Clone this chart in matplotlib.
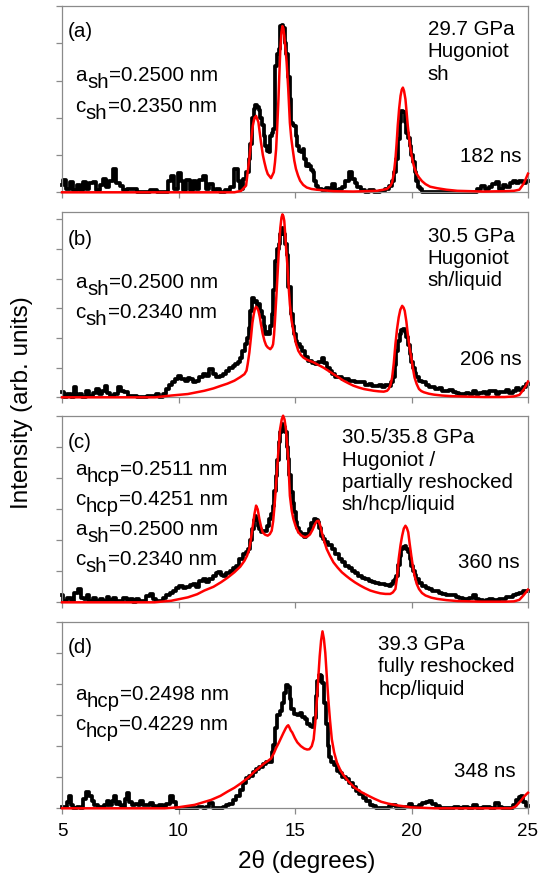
import numpy as np
import matplotlib.pyplot as plt

plt.rcParams['font.family'] = ['Liberation Sans', 'DejaVu Sans']

a_exp = [(5.0, 0.2), (5.11, 0.33), (5.25, 0.1), (5.4, 0.28), (5.55, 0.05), (5.7, 0.2), (5.85, 0.05),
         (5.97, 0.28), (6.1, 0.08), (6.25, 0.25), (6.4, 0.28), (6.55, 0.05), (6.7, 0.2), (6.83, 0.36),
         (6.95, 0.15), (7.1, 0.3), (7.26, 0.62), (7.4, 0.25), (7.54, 0.18), (7.7, 0.05), (7.9, 0.08),
         (8.11, 0.1), (8.3, 0.02), (8.6, 0.0), (8.97, 0.05), (9.2, 0.0), (9.5, 0.02), (9.62, 0.3),
         (9.76, 0.45), (9.88, 0.1), (10.04, 0.53), (10.15, 0.3), (10.25, 0.05), (10.4, 0.32),
         (10.55, 0.05), (10.7, 0.3), (10.8, 0.1), (10.97, 0.32), (11.1, 0.45), (11.25, 0.1),
         (11.4, 0.22), (11.55, 0.05), (11.69, 0.1), (11.9, 0.02), (12.11, 0.05), (12.3, 0.15),
         (12.47, 0.62), (12.6, 0.3), (12.69, 0.1), (12.85, 0.35), (12.97, 0.55), (13.04, 0.9),
         (13.12, 1.3), (13.2, 2.0), (13.26, 2.23), (13.33, 2.34), (13.4, 2.3), (13.47, 2.2),
         (13.54, 2.0), (13.61, 1.8), (13.69, 1.5), (13.76, 1.25), (13.83, 1.1), (13.9, 1.07),
         (13.97, 1.5), (14.04, 1.6), (14.11, 1.7), (14.19, 3.4), (14.26, 3.7), (14.33, 3.84),
         (14.4, 4.46), (14.47, 4.5), (14.54, 4.4), (14.6, 4.0), (14.67, 3.7), (14.74, 3.1),
         (14.8, 2.5), (14.86, 1.87), (14.93, 1.8), (15.0, 1.79), (15.07, 1.5), (15.14, 1.25),
         (15.22, 1.1), (15.29, 1.07), (15.36, 1.16), (15.43, 0.9), (15.5, 0.71), (15.58, 0.75),
         (15.65, 0.71), (15.72, 0.6), (15.79, 0.54), (15.86, 0.3), (15.93, 0.18), (16.08, 0.09),
         (16.22, 0.05), (16.4, 0.12), (16.55, 0.05), (16.65, 0.22), (16.8, 0.05), (16.95, 0.1),
         (17.1, 0.15), (17.23, 0.31), (17.37, 0.54), (17.51, 0.36), (17.62, 0.25), (17.73, 0.13),
         (17.9, 0.05), (18.09, 0.02), (18.3, 0.05), (18.5, 0.0), (18.81, 0.04), (18.95, 0.1),
         (19.09, 0.18), (19.2, 0.3), (19.31, 0.54), (19.38, 0.9), (19.45, 1.43), (19.53, 1.9),
         (19.6, 2.19), (19.67, 2.15), (19.74, 1.9), (19.81, 1.6), (19.88, 1.45), (19.96, 1.25),
         (20.03, 1.0), (20.1, 0.8), (20.17, 0.55), (20.24, 0.31), (20.32, 0.15), (20.39, 0.09),
         (20.53, 0.0), (21.0, 0.0), (21.68, 0.0), (22.2, 0.02), (22.7, 0.0), (22.9, 0.1),
         (23.1, 0.18), (23.25, 0.1), (23.4, 0.15), (23.55, 0.22), (23.7, 0.27), (23.85, 0.1),
         (23.98, 0.2), (24.15, 0.15), (24.3, 0.25), (24.4, 0.31), (24.55, 0.25), (24.7, 0.3),
         (24.85, 0.25), (25.0, 0.3)]
a_fit = [(5.0, 0.0), (12.4, 0.0), (12.69, 0.04), (12.9, 0.18), (13.04, 0.9), (13.12, 1.4),
         (13.19, 1.79), (13.26, 2.0), (13.33, 2.05), (13.43, 1.88), (13.54, 1.34), (13.62, 1.0),
         (13.69, 0.8), (13.76, 0.62), (13.83, 0.49), (13.97, 0.38), (14.09, 0.54), (14.14, 0.8),
         (14.19, 1.16), (14.24, 1.8), (14.29, 2.5), (14.33, 3.2), (14.37, 3.84), (14.42, 4.3),
         (14.46, 4.46), (14.5, 4.4), (14.54, 4.2), (14.57, 4.0), (14.64, 3.5), (14.71, 2.77),
         (14.78, 1.87), (14.84, 1.45), (14.9, 1.16), (14.97, 0.85), (15.04, 0.63), (15.13, 0.45),
         (15.22, 0.31), (15.35, 0.2), (15.5, 0.13), (15.7, 0.09), (15.93, 0.07), (16.65, 0.03),
         (17.5, 0.02), (18.52, 0.04), (18.8, 0.07), (18.95, 0.09), (19.1, 0.18), (19.17, 0.27),
         (19.24, 0.5), (19.31, 0.89), (19.36, 1.3), (19.41, 1.79), (19.47, 2.25), (19.53, 2.59),
         (19.58, 2.75), (19.63, 2.81), (19.68, 2.72), (19.74, 2.5), (19.79, 2.15), (19.84, 1.79),
         (19.9, 1.45), (19.96, 1.16), (20.03, 0.9), (20.1, 0.71), (20.2, 0.52), (20.32, 0.4),
         (20.45, 0.3), (20.6, 0.22), (20.8, 0.15), (21.1, 0.11), (21.5, 0.07), (21.97, 0.04),
         (23.1, 0.02), (24.0, 0.03), (24.4, 0.04), (24.63, 0.07), (24.8, 0.22), (24.9, 0.35),
         (25.0, 0.5)]

b_exp = [(5.0, 0.17), (5.15, 0.0), (5.3, 0.1), (5.45, 0.02), (5.54, 0.34), (5.65, 0.05), (5.8, 0.1),
         (5.95, 0.02), (6.11, 0.22), (6.25, 0.05), (6.4, 0.15), (6.54, 0.28), (6.65, 0.1), (6.75, 0.2),
         (6.9, 0.39), (7.0, 0.15), (7.15, 0.05), (7.3, 0.1), (7.47, 0.34), (7.6, 0.2), (7.76, 0.17),
         (7.9, 0.05), (8.11, 0.03), (8.3, 0.02), (8.54, 0.0), (8.75, 0.05), (8.97, 0.03), (9.1, 0.1),
         (9.26, 0.0), (9.4, 0.1), (9.54, 0.28), (9.65, 0.4), (9.76, 0.5), (9.9, 0.6), (10.04, 0.73),
         (10.2, 0.62), (10.33, 0.56), (10.45, 0.65), (10.54, 0.62), (10.7, 0.5), (10.83, 0.56),
         (10.97, 0.7), (11.11, 0.78), (11.25, 0.72), (11.4, 0.95), (11.55, 0.8), (11.69, 0.67),
         (11.83, 0.72), (11.97, 0.78), (12.1, 0.9), (12.26, 1.0), (12.4, 1.05), (12.47, 1.12),
         (12.6, 1.2), (12.69, 1.34), (12.8, 1.55), (12.9, 1.79), (12.97, 2.0), (13.04, 2.35),
         (13.12, 2.9), (13.19, 3.36), (13.26, 3.2), (13.33, 3.25), (13.4, 3.1), (13.47, 3.14),
         (13.54, 2.9), (13.61, 2.69), (13.69, 2.4), (13.76, 2.13), (13.83, 2.2), (13.9, 2.13),
         (13.97, 2.4), (14.04, 2.8), (14.11, 3.6), (14.19, 4.59), (14.26, 5.0), (14.33, 5.15),
         (14.4, 5.5), (14.47, 5.71), (14.54, 5.5), (14.61, 5.15), (14.67, 4.8), (14.76, 3.7),
         (14.86, 2.8), (14.93, 2.4), (15.0, 2.13), (15.07, 1.9), (15.14, 1.79), (15.25, 1.7),
         (15.36, 1.57), (15.5, 1.35), (15.65, 1.23), (15.79, 1.15), (15.93, 1.12), (16.08, 1.2),
         (16.22, 1.34), (16.3, 1.15), (16.44, 1.0), (16.55, 0.9), (16.65, 0.78), (16.8, 0.7),
         (16.94, 0.67), (17.08, 0.6), (17.23, 0.62), (17.37, 0.55), (17.51, 0.56), (17.65, 0.5),
         (17.8, 0.52), (17.95, 0.5), (18.1, 0.42), (18.23, 0.45), (18.38, 0.39), (18.52, 0.38),
         (18.66, 0.4), (18.81, 0.36), (18.95, 0.4), (19.09, 0.39), (19.17, 0.5), (19.24, 0.67),
         (19.31, 1.1), (19.38, 1.57), (19.45, 1.9), (19.53, 2.13), (19.6, 2.25), (19.67, 2.3),
         (19.74, 2.2), (19.81, 2.02), (19.88, 1.75), (19.96, 1.46), (20.03, 1.2), (20.1, 1.0),
         (20.17, 0.82), (20.24, 0.67), (20.39, 0.55), (20.53, 0.5), (20.7, 0.42), (20.82, 0.35),
         (20.96, 0.34), (21.1, 0.28), (21.25, 0.3), (21.39, 0.22), (21.55, 0.2), (21.7, 0.25),
         (21.82, 0.17), (21.97, 0.15), (22.12, 0.1), (22.26, 0.11), (22.4, 0.15), (22.55, 0.12),
         (22.69, 0.22), (22.83, 0.12), (22.98, 0.15), (23.12, 0.17), (23.26, 0.12), (23.41, 0.2),
         (23.55, 0.22), (23.7, 0.12), (23.84, 0.18), (23.98, 0.17), (24.12, 0.25), (24.27, 0.15),
         (24.41, 0.22), (24.55, 0.3), (24.7, 0.25), (24.85, 0.35), (25.0, 0.45)]
b_fit = [(5.0, 0.0), (9.0, 0.0), (9.69, 0.06), (10.4, 0.11), (11.11, 0.22), (11.5, 0.3), (11.83, 0.39),
         (12.1, 0.46), (12.4, 0.56), (12.65, 0.68), (12.83, 0.78), (12.92, 0.9), (12.97, 1.12),
         (13.04, 1.5), (13.11, 2.02), (13.17, 2.5), (13.23, 2.8), (13.28, 2.98), (13.33, 3.05),
         (13.38, 3.0), (13.43, 2.91), (13.49, 2.7), (13.54, 2.46), (13.61, 2.15), (13.69, 1.9),
         (13.76, 1.75), (13.83, 1.68), (13.94, 1.62), (14.02, 1.7), (14.06, 1.79), (14.1, 2.1),
         (14.14, 2.58), (14.2, 3.4), (14.26, 4.26), (14.31, 5.0), (14.37, 5.71), (14.42, 6.05),
         (14.46, 6.16), (14.5, 6.1), (14.54, 5.94), (14.57, 5.6), (14.62, 5.0), (14.67, 4.48),
         (14.72, 3.8), (14.78, 3.14), (14.85, 2.6), (14.93, 2.24), (15.03, 1.85), (15.14, 1.57),
         (15.25, 1.43), (15.36, 1.34), (15.5, 1.27), (15.65, 1.22), (15.79, 1.18), (16.0, 1.09),
         (16.22, 1.0), (16.44, 0.89), (16.65, 0.78), (16.87, 0.67), (17.08, 0.56), (17.3, 0.47),
         (17.51, 0.39), (17.73, 0.33), (17.95, 0.28), (18.16, 0.25), (18.38, 0.22), (18.6, 0.2),
         (18.81, 0.19), (18.95, 0.22), (19.02, 0.28), (19.1, 0.42), (19.17, 0.67), (19.24, 1.15),
         (19.31, 1.79), (19.38, 2.3), (19.45, 2.69), (19.52, 2.95), (19.6, 3.08), (19.66, 3.02),
         (19.71, 2.91), (19.78, 2.55), (19.84, 2.13), (19.91, 1.7), (19.99, 1.34), (20.06, 0.98),
         (20.13, 0.67), (20.22, 0.45), (20.32, 0.28), (20.42, 0.21), (20.53, 0.17), (20.75, 0.12),
         (20.96, 0.09), (21.3, 0.06), (21.68, 0.04), (22.5, 0.02), (23.12, 0.01), (24.0, 0.01),
         (24.4, 0.03), (24.63, 0.08), (24.8, 0.25), (24.92, 0.4), (25.0, 0.53)]

c_exp = [(5.0, 0.22), (5.12, 0.05), (5.3, 0.15), (5.45, 0.05), (5.6, 0.3), (5.76, 0.43), (5.9, 0.15),
         (6.0, 0.1), (6.11, 0.22), (6.25, 0.05), (6.4, 0.15), (6.54, 0.05), (6.7, 0.12), (6.85, 0.05),
         (6.97, 0.16), (7.1, 0.08), (7.25, 0.15), (7.4, 0.05), (7.54, 0.05), (7.7, 0.15), (7.85, 0.05),
         (7.97, 0.1), (8.1, 0.02), (8.25, 0.1), (8.4, 0.05), (8.55, 0.05), (8.7, 0.2), (8.83, 0.27),
         (8.95, 0.1), (9.1, 0.05), (9.26, 0.05), (9.4, 0.15), (9.54, 0.22), (9.7, 0.3), (9.83, 0.38),
         (9.97, 0.45), (10.11, 0.54), (10.25, 0.45), (10.4, 0.48), (10.55, 0.55), (10.69, 0.59),
         (10.83, 0.5), (10.97, 0.7), (11.11, 0.75), (11.26, 0.65), (11.4, 0.75), (11.54, 0.86),
         (11.65, 0.95), (11.76, 0.97), (11.88, 0.88), (11.97, 0.86), (12.12, 0.95), (12.26, 1.02),
         (12.4, 1.1), (12.54, 1.18), (12.69, 1.4), (12.83, 1.56), (12.94, 1.62), (13.04, 1.72),
         (13.12, 2.0), (13.19, 2.37), (13.26, 2.65), (13.3, 2.8), (13.37, 2.7), (13.43, 2.47),
         (13.5, 2.35), (13.57, 2.26), (13.65, 2.3), (13.76, 2.31), (13.85, 2.45), (13.94, 2.69),
         (14.02, 2.85), (14.09, 3.12), (14.14, 3.6), (14.19, 4.09), (14.26, 4.6), (14.33, 5.16),
         (14.4, 5.5), (14.47, 5.75), (14.54, 5.65), (14.61, 5.5), (14.67, 5.0), (14.71, 4.62),
         (14.78, 4.1), (14.86, 3.55), (14.93, 3.2), (15.0, 2.9), (15.07, 2.6), (15.14, 2.4),
         (15.22, 2.26), (15.3, 2.2), (15.43, 2.1), (15.54, 2.2), (15.65, 2.37), (15.75, 2.55),
         (15.86, 2.69), (15.95, 2.65), (16.01, 2.58), (16.08, 2.4), (16.15, 2.15), (16.25, 2.05),
         (16.36, 1.94), (16.5, 1.85), (16.65, 1.72), (16.8, 1.55), (16.94, 1.4), (17.08, 1.3),
         (17.23, 1.18), (17.37, 1.1), (17.51, 1.02), (17.65, 0.95), (17.8, 0.86), (17.95, 0.8),
         (18.09, 0.75), (18.23, 0.7), (18.38, 0.65), (18.52, 0.62), (18.66, 0.59), (18.81, 0.58),
         (18.95, 0.55), (19.09, 0.54), (19.17, 0.6), (19.24, 0.7), (19.31, 0.75), (19.38, 0.86),
         (19.45, 1.2), (19.53, 1.5), (19.6, 1.72), (19.67, 1.8), (19.74, 1.83), (19.81, 1.72),
         (19.89, 1.61), (19.96, 1.4), (20.03, 1.18), (20.1, 1.0), (20.17, 0.88), (20.24, 0.75),
         (20.39, 0.62), (20.53, 0.54), (20.68, 0.45), (20.82, 0.42), (20.96, 0.38), (21.1, 0.35),
         (21.25, 0.3), (21.39, 0.27), (21.53, 0.25), (21.68, 0.24), (21.82, 0.22), (21.97, 0.18),
         (22.12, 0.15), (22.26, 0.11), (22.4, 0.12), (22.55, 0.15), (22.69, 0.24), (22.83, 0.12),
         (22.98, 0.08), (23.12, 0.05), (23.26, 0.06), (23.41, 0.1), (23.55, 0.08), (23.69, 0.09),
         (23.84, 0.12), (23.98, 0.1), (24.12, 0.16), (24.27, 0.18), (24.41, 0.22), (24.55, 0.28),
         (24.7, 0.3), (24.85, 0.35), (25.0, 0.38)]
c_fit = [(5.0, 0.0), (8.97, 0.0), (9.69, 0.05), (10.4, 0.16), (10.8, 0.26), (11.11, 0.38), (11.5, 0.5),
         (11.83, 0.65), (12.1, 0.79), (12.4, 0.97), (12.65, 1.15), (12.83, 1.34), (12.94, 1.5),
         (13.04, 1.72), (13.12, 2.1), (13.19, 2.47), (13.26, 2.85), (13.33, 3.12), (13.4, 3.0),
         (13.47, 2.69), (13.54, 2.45), (13.61, 2.26), (13.72, 2.18), (13.83, 2.15), (13.92, 2.2),
         (14.0, 2.31), (14.06, 2.6), (14.11, 3.01), (14.17, 3.6), (14.23, 4.3), (14.3, 5.0),
         (14.36, 5.59), (14.43, 5.9), (14.49, 6.02), (14.55, 5.9), (14.61, 5.59), (14.66, 5.1),
         (14.71, 4.62), (14.78, 3.44), (14.86, 2.95), (14.93, 2.69), (15.03, 2.45), (15.14, 2.26),
         (15.28, 2.15), (15.43, 2.1), (15.55, 2.13), (15.65, 2.2), (15.76, 2.35), (15.86, 2.53),
         (15.94, 2.62), (16.01, 2.63), (16.08, 2.48), (16.15, 2.26), (16.25, 1.98), (16.36, 1.72),
         (16.5, 1.5), (16.65, 1.29), (16.83, 1.12), (17.01, 0.97), (17.2, 0.85), (17.37, 0.75),
         (17.58, 0.64), (17.8, 0.54), (18.0, 0.46), (18.23, 0.38), (18.45, 0.33), (18.66, 0.29),
         (18.88, 0.27), (19.09, 0.27), (19.2, 0.32), (19.31, 0.43), (19.38, 0.8), (19.45, 1.4),
         (19.53, 1.85), (19.6, 2.15), (19.67, 2.38), (19.74, 2.47), (19.8, 2.4), (19.86, 2.26),
         (19.92, 1.9), (19.99, 1.51), (20.06, 1.15), (20.13, 0.86), (20.22, 0.6), (20.32, 0.43),
         (20.45, 0.3), (20.6, 0.22), (20.85, 0.15), (21.1, 0.11), (21.5, 0.07), (21.97, 0.04),
         (23.0, 0.02), (24.0, 0.02), (24.4, 0.03), (24.63, 0.08), (24.8, 0.22), (24.92, 0.33),
         (25.0, 0.41)]

d_exp = [(5.0, 0.05), (5.15, 0.05), (5.25, 0.2), (5.33, 0.38), (5.42, 0.1), (5.55, 0.02), (5.7, 0.05),
         (5.85, 0.02), (5.97, 0.3), (6.11, 0.54), (6.22, 0.4), (6.33, 0.22), (6.45, 0.1), (6.6, 0.05),
         (6.75, 0.05), (6.85, 0.1), (6.97, 0.22), (7.1, 0.1), (7.2, 0.25), (7.26, 0.38), (7.35, 0.15),
         (7.45, 0.2), (7.54, 0.1), (7.65, 0.05), (7.75, 0.3), (7.83, 0.48), (7.93, 0.2), (8.05, 0.1),
         (8.2, 0.15), (8.3, 0.1), (8.4, 0.22), (8.55, 0.12), (8.7, 0.1), (8.83, 0.16), (8.97, 0.08),
         (9.1, 0.05), (9.26, 0.1), (9.4, 0.05), (9.55, 0.15), (9.69, 0.38), (9.8, 0.2), (9.97, 0.02),
         (10.1, 0.0), (10.4, 0.0), (10.69, 0.0), (11.0, 0.05), (11.11, 0.02), (11.25, 0.05),
         (11.4, 0.16), (11.55, 0.02), (11.83, 0.0), (11.97, 0.05), (12.11, 0.11), (12.25, 0.15),
         (12.4, 0.27), (12.55, 0.4), (12.69, 0.59), (12.83, 0.8), (12.97, 0.97), (13.11, 1.05),
         (13.26, 1.18), (13.4, 1.25), (13.54, 1.34), (13.69, 1.42), (13.83, 1.5), (13.97, 1.5),
         (14.04, 1.8), (14.09, 2.04), (14.19, 2.58), (14.29, 3.01), (14.4, 3.12), (14.5, 3.4),
         (14.58, 3.7), (14.66, 3.98), (14.73, 3.91), (14.8, 3.5), (14.88, 3.18), (15.03, 3.02),
         (15.14, 3.01), (15.25, 3.08), (15.36, 2.95), (15.47, 2.86), (15.57, 2.7), (15.69, 2.65),
         (15.79, 2.63), (15.86, 2.9), (15.93, 3.6), (16.0, 4.1), (16.06, 4.3), (16.14, 4.25),
         (16.21, 4.04), (16.28, 3.4), (16.36, 2.7), (16.43, 2.0), (16.5, 1.65), (16.6, 1.5),
         (16.73, 1.4), (16.87, 1.2), (16.95, 1.12), (17.1, 1.02), (17.25, 0.94), (17.4, 0.8),
         (17.55, 0.68), (17.7, 0.55), (17.83, 0.46), (17.98, 0.33), (18.13, 0.22), (18.28, 0.12),
         (18.42, 0.06), (18.56, 0.02), (18.7, 0.0), (19.0, 0.02), (19.1, 0.08), (19.24, 0.11),
         (19.4, 0.02), (19.6, 0.0), (19.8, 0.05), (19.96, 0.13), (20.1, 0.05), (20.25, 0.05),
         (20.4, 0.12), (20.53, 0.16), (20.68, 0.2), (20.82, 0.24), (20.96, 0.15), (21.11, 0.08),
         (21.3, 0.02), (21.5, 0.0), (21.7, 0.0), (21.97, 0.04), (22.1, 0.0), (22.33, 0.05),
         (22.5, 0.0), (22.76, 0.1), (22.9, 0.0), (23.26, 0.04), (23.5, 0.0), (23.69, 0.16),
         (23.8, 0.05), (24.0, 0.0), (24.3, 0.0), (24.45, 0.1), (24.55, 0.27), (24.65, 0.35),
         (24.75, 0.4), (24.85, 0.2), (25.0, 0.08)]
d_fit = [(5.0, 0.0), (9.4, 0.0), (9.97, 0.03), (10.69, 0.11), (11.4, 0.27), (11.8, 0.4), (12.11, 0.54),
         (12.4, 0.66), (12.69, 0.81), (13.0, 0.99), (13.26, 1.18), (13.5, 1.33), (13.69, 1.45),
         (13.85, 1.53), (13.97, 1.6), (14.1, 1.78), (14.19, 1.94), (14.3, 2.1), (14.4, 2.26),
         (14.5, 2.42), (14.6, 2.57), (14.66, 2.64), (14.71, 2.67), (14.76, 2.6), (14.82, 2.5),
         (14.88, 2.44), (15.0, 2.25), (15.1, 2.12), (15.25, 2.0), (15.4, 1.92), (15.52, 1.89),
         (15.62, 1.9), (15.72, 2.0), (15.8, 2.22), (15.87, 2.75), (15.94, 3.5), (16.0, 4.2),
         (16.06, 4.89), (16.12, 5.4), (16.18, 5.69), (16.24, 5.45), (16.3, 5.0), (16.36, 4.3),
         (16.43, 3.5), (16.5, 2.85), (16.58, 2.22), (16.68, 1.8), (16.8, 1.47), (16.95, 1.22),
         (17.1, 1.05), (17.3, 0.86), (17.55, 0.67), (17.85, 0.52), (18.13, 0.41), (18.4, 0.31),
         (18.7, 0.21), (19.0, 0.15), (19.42, 0.09), (20.0, 0.03), (21.0, 0.0), (24.28, 0.0),
         (24.45, 0.05), (24.57, 0.14), (24.7, 0.25), (24.8, 0.35), (24.94, 0.46), (25.0, 0.5)]

panel_tags = ['(a)', '(b)', '(c)', '(d)']
conditions = ['29.7 GPa\nHugoniot\nsh',
              '30.5 GPa\nHugoniot\nsh/liquid',
              '30.5/35.8 GPa\nHugoniot /\npartially reshocked\nsh/hcp/liquid',
              '39.3 GPa\nfully reshocked\nhcp/liquid']
times = ['182 ns', '206 ns', '360 ns', '348 ns']
lattice = [[('a', 'sh', '=0.2500 nm'), ('c', 'sh', '=0.2350 nm')],
           [('a', 'sh', '=0.2500 nm'), ('c', 'sh', '=0.2340 nm')],
           [('a', 'hcp', '=0.2511 nm'), ('c', 'hcp', '=0.4251 nm'),
            ('a', 'sh', '=0.2500 nm'), ('c', 'sh', '=0.2340 nm')],
           [('a', 'hcp', '=0.2498 nm'), ('c', 'hcp', '=0.4229 nm')]]

W, H = 541, 878
FS = 14.8
GREY = '#8a8a8a'


def sub_text(ax, x, y, base, sub, rest):
    # "a" + lowered full-size subscript + remainder, chained on the text boxes
    t1 = ax.text(x, y, base, transform=ax.transAxes, fontsize=FS, va='baseline', ha='left')
    t2 = ax.annotate(sub, xy=(1, 0), xycoords=t1, xytext=(0.3, -4.8),
                     textcoords='offset points', fontsize=FS, va='bottom', ha='left')
    ax.annotate(rest, xy=(1, 0), xycoords=t2, xytext=(0.3, 4.8),
                textcoords='offset points', fontsize=FS, va='bottom', ha='left')


fig = plt.figure(figsize=(W / 100, H / 100), dpi=100)

# pixel boxes of the four panels (top, bottom) and their y ranges
boxes = [(7.0, 193.3), (212.7, 398.3), (416.7, 603.3), (622.7, 809.3)]
ytops = [5.0, 6.25, 6.02, 6.0]
right_x = [0.785, 0.785, 0.600, 0.679]
right_y = [0.930, 0.925, 0.938, 0.934]
time_x = [0.986, 0.986, 0.981, 0.974]
time_y = [0.168, 0.179, 0.188, 0.175]
tag_y = [0.921, 0.907, 0.911, 0.916]
lat_y = [[0.602, 0.437], [0.593, 0.431], [0.688, 0.527, 0.366, 0.205], [0.586, 0.425]]

data = [(a_exp, a_fit), (b_exp, b_fit), (c_exp, c_fit), (d_exp, d_fit)]
left, right = 62.0, 528.0

for i, (exp, fit) in enumerate(data):
    top, bot = boxes[i]
    ax = fig.add_axes([left / W, 1 - bot / H, (right - left) / W, (bot - top) / H])
    ex = np.array(exp)
    fx = np.array(fit)
    ax.plot(ex[:, 0], ex[:, 1], color='black', lw=2.7, drawstyle='steps-mid',
            clip_on=False, zorder=2)
    ax.plot(fx[:, 0], fx[:, 1], color='#ff0000', lw=1.8, clip_on=False, zorder=3)

    ax.set_xlim(5, 25)
    ax.set_ylim(0, ytops[i])
    ax.set_xticks([5, 10, 15, 20, 25])
    ax.set_yticks(np.arange(0, int(ytops[i]) + 1))
    ax.set_yticklabels([])
    for s in ax.spines.values():
        s.set_color(GREY)
        s.set_linewidth(0.9)
    ax.tick_params(direction='out', length=4, width=0.9, color=GREY, labelsize=13.5, pad=6)
    if i < 3:
        ax.set_xticklabels([])

    ax.text(0.013, tag_y[i], panel_tags[i], transform=ax.transAxes, fontsize=FS, va='top', ha='left')
    ax.text(right_x[i], right_y[i], conditions[i], transform=ax.transAxes, fontsize=FS,
            va='top', ha='left', linespacing=1.22)
    ax.text(time_x[i], time_y[i], times[i], transform=ax.transAxes, fontsize=FS,
            va='baseline', ha='right')
    for (b, s, r), yy in zip(lattice[i], lat_y[i]):
        sub_text(ax, 0.028, yy, b, s, r)

fig.text(307 / W, 1 - 862 / H, '2\u03b8 (degrees)', fontsize=17.5, ha='center', va='center')
fig.text(22 / W, 1 - 403 / H, 'Intensity (arb. units)', fontsize=17.5, ha='center', va='center',
         rotation=90)

fig.savefig('out.png', dpi=100)
